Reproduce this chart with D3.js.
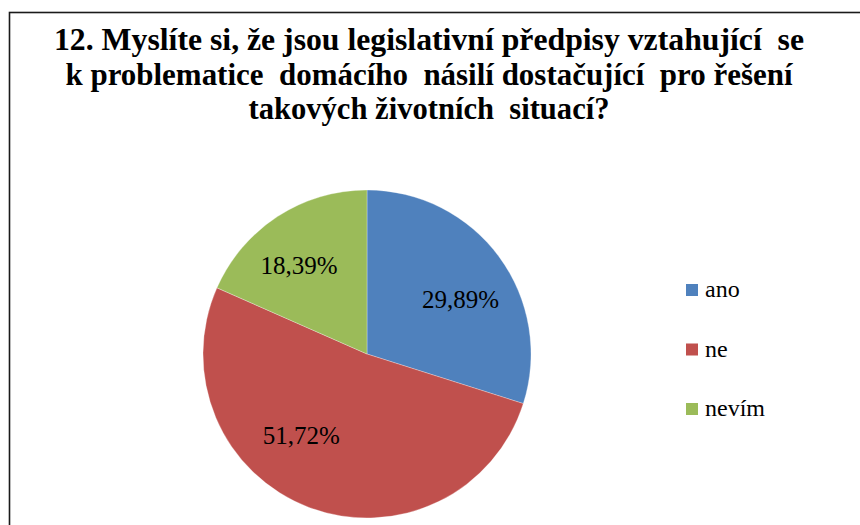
<!DOCTYPE html>
<html><head><meta charset="utf-8">
<script src="https://cdn.jsdelivr.net/npm/d3@7"></script>
</head><body style="margin:0;background:#fff">
<svg id="c" width="860" height="525" style="display:block"></svg>
<script>
const categories = ["ano", "ne", "nevím"];
const values = [29.89, 51.72, 18.39];
const labels = ["29,89%", "51,72%", "18,39%"];
const colors = ["#4F81BD", "#C0504D", "#9BBB59"];
const titleLines = [
  "12. Myslíte si, že jsou legislativní předpisy vztahující  se",
  "k problematice  domácího  násilí dostačující  pro řešení",
  "takových životních  situací?"
];
const FONT = "Liberation Serif";

const svg = d3.select("#c");
svg.append("rect").attr("x", 9.5).attr("y", 12.5).attr("width", 900).attr("height", 600)
  .attr("fill", "#fff").attr("stroke", "#1a1a1a").attr("stroke-width", 1.6);

// title: size fitted so the first line spans the reference width; each line
// stretched to its width in the reference layout
const lineWidths = [750, 727, 361];
const title = svg.append("text").attr("text-anchor", "middle")
  .style("font-family", FONT).attr("font-weight", "bold")
  .attr("font-size", 30).attr("fill", "#000")
  .style("white-space", "pre");
const spans = titleLines.map((l, i) =>
  title.append("tspan").attr("x", 429).attr("y", 50 + i * 34.5).text(l));
const w0 = spans[0].node().getComputedTextLength();
title.attr("font-size", 30 * 750 / w0);
spans.forEach((s, i) => s.attr("textLength", lineWidths[i]).attr("lengthAdjust", "spacingAndGlyphs"));

const cx = 367, cy = 354, r = 164;
const pie = d3.pie().sort(null).value(d => d);
const arcs = pie(values);
const arc = d3.arc().innerRadius(0).outerRadius(r);
const g = svg.append("g").attr("transform", `translate(${cx},${cy})`);
g.selectAll("path").data(arcs).join("path")
  .attr("d", arc).attr("fill", (d, i) => colors[i])
  .attr("stroke", "#fff").attr("stroke-width", 0.3);

// label placement (layout only): angle shift in degrees and radius fraction
const labelLayout = [{da: 6, rf: 0.66}, {da: 18, rf: 0.64}, {da: -4.5, rf: 0.68}];
g.selectAll("text").data(arcs).join("text")
  .attr("transform", (d, i) => {
    const a = (d.startAngle + d.endAngle) / 2 + labelLayout[i].da * Math.PI / 180;
    const rr = r * labelLayout[i].rf;
    return `translate(${rr * Math.sin(a)},${-rr * Math.cos(a)})`;
  })
  .attr("text-anchor", "middle").attr("dy", "0.33em")
  .style("font-family", FONT).attr("font-size", 25).attr("fill", "#000")
  .text((d, i) => labels[i]);

const leg = svg.append("g").attr("transform", "translate(686,284)");
categories.forEach((c, i) => {
  const row = leg.append("g").attr("transform", `translate(0,${i * 59.5})`);
  row.append("rect").attr("width", 12).attr("height", 12).attr("fill", colors[i]);
  row.append("text").attr("x", 19).attr("y", 13)
    .style("font-family", FONT).attr("font-size", 24).attr("fill", "#000").text(c);
});
</script>
</body></html>
